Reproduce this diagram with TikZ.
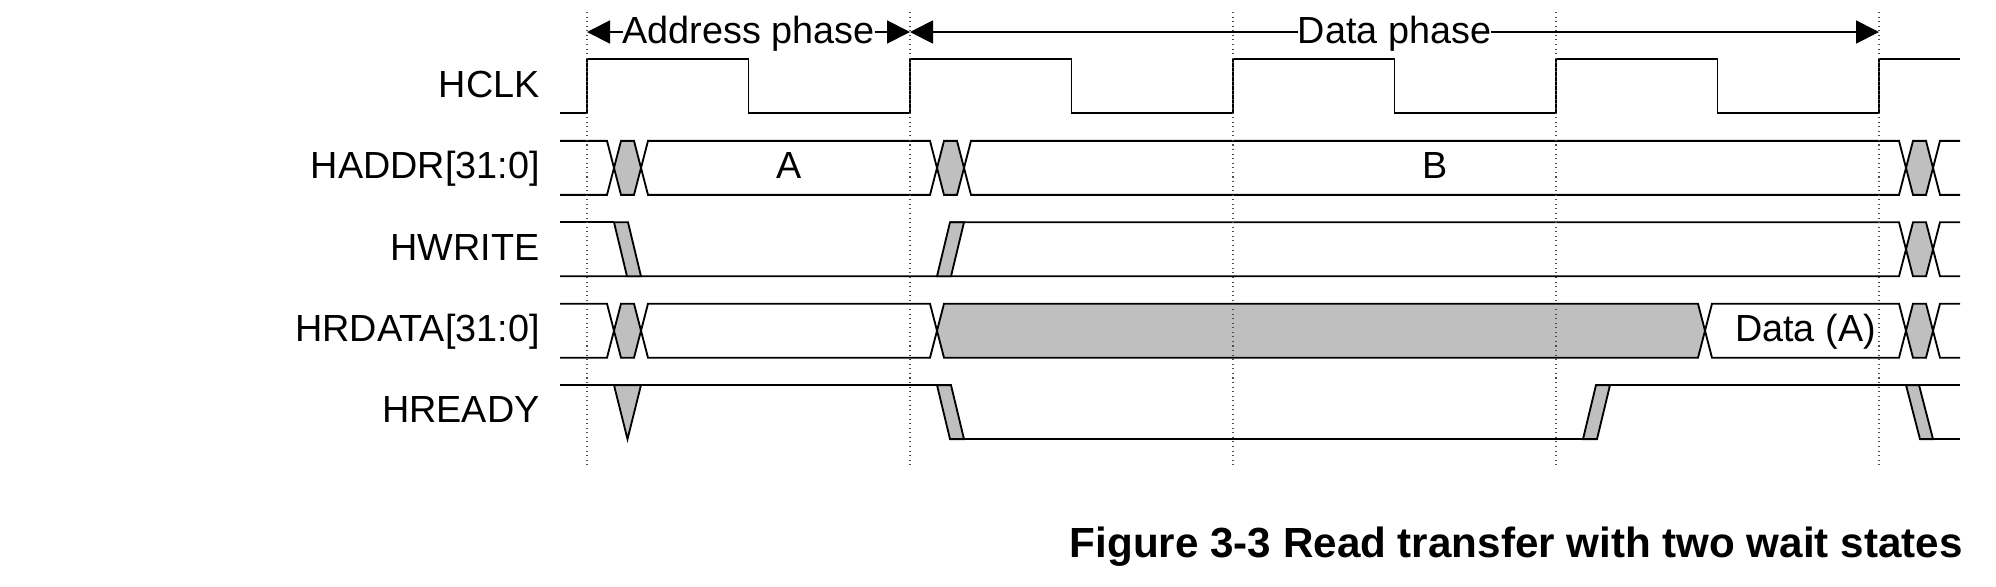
\documentclass[tikz,border=0pt]{standalone}
\usepackage{fontspec}
\setmainfont{Liberation Sans}
\usetikzlibrary{arrows.meta}

\definecolor{unk}{gray}{0.75}
\newcommand{\busseg}[4][white]{%
  \draw[sig,fill=#1] (#2,#4+27) -- (#2+7,#4) -- (#3-7,#4) -- (#3,#4+27)
    -- (#3-7,#4+54) -- (#2+7,#4+54) -- cycle;}

\begin{document}
\begin{tikzpicture}[x=0.02cm,y=-0.02cm,
      sig/.style={line width=1.05pt},
      grid line/.style={dotted,line width=0.6pt,black!70},
      sig name/.style={anchor=base east,inner sep=0pt,font=\fontsize{21.5}{26}\selectfont},
      sig val/.style={anchor=base,font=\fontsize{21.5}{26}\selectfont},
      phase/.style={fill=white,inner sep=0pt,anchor=base,font=\fontsize{21.5}{26}\selectfont},
      phase arrow/.style={sig,{Triangle[length=0.46cm,width=0.46cm]}-{Triangle[length=0.46cm,width=0.46cm]}}]

\useasboundingbox (0,0) rectangle (1996,586);

\node[sig name] (nclk)   at (540,97.5)  {HCLK};
\node[sig name] (naddr)  at (540,178.6) {HADDR[31:0]};
\node[sig name] (nwrite) at (540,260)   {HWRITE};
\node[sig name] (nrdata) at (540,341.4) {HRDATA[31:0]};
\node[sig name] (nready) at (540,422.8) {HREADY};

\draw[sig] (560,113.2) \foreach \e in {587,910,1233,1556} {
  -- (\e,113.2) -- (\e,59.2) -- (\e+161.5,59.2) -- (\e+161.5,113.2) }
  -- (1879,113.2) -- (1879,59.2) -- (1960,59.2);

\begin{scope}
\clip (560,0) rectangle (1960,470);
\foreach \a/\b/\c in {540/614/white,614/641/unk,641/937/white,937/964/unk,
    964/1906/white,1906/1933/unk,1933/1980/white}
  \busseg[\c]{\a}{\b}{140.9};
\foreach \a/\b/\c in {540/614/white,614/641/unk,641/937/white,937/1705/unk,
    1705/1906/white,1906/1933/unk,1933/1980/white}
  \busseg[\c]{\a}{\b}{303.7};

\draw[sig] (560,222.3) -- (614,222.3);
\draw[sig] (560,276.3) -- (1899,276.3) -- (1906,249.3);
\draw[sig,fill=unk] (614,222.3) -- (628,222.3) -- (641,276.3) -- (627,276.3) -- cycle;
\draw[sig,fill=unk] (937,276.3) -- (951,276.3) -- (964,222.3) -- (950,222.3) -- cycle;
\draw[sig] (950,222.3) -- (1899,222.3) -- (1906,249.3);
\busseg[unk]{1906}{1933}{222.3}
\busseg{1933}{1980}{222.3}

\draw[sig] (560,385.1) -- (937,385.1);
\draw[sig,fill=unk] (614,385.1) -- (627.5,439.1) -- (641,385.1) -- cycle;
\draw[sig,fill=unk] (937,385.1) -- (951,385.1) -- (964,439.1) -- (950,439.1) -- cycle;
\draw[sig] (950,439.1) -- (1583,439.1);
\draw[sig,fill=unk] (1583,439.1) -- (1597,439.1) -- (1610,385.1) -- (1596,385.1) -- cycle;
\draw[sig] (1596,385.1) -- (1960,385.1);
\draw[sig,fill=unk] (1906,385.1) -- (1919,385.1) -- (1933,439.1) -- (1920,439.1) -- cycle;
\draw[sig] (1920,439.1) -- (1960,439.1);
\end{scope}

\node[sig val] (va)  at (789,178.6)    {A};
\node[sig val] (vb)  at (1435,178.6)   {B};
\node[sig val] (vda) at (1805.5,341.4) {Data (A)};

\foreach \e [count=\i from 0] in {587,910,1233,1556,1879} {
  \coordinate (p\i) at (\e,32);
  \draw[grid line] (\e,12) -- (\e,467);
}

\draw[phase arrow] (p0) -- (p1);
\draw[phase arrow] (p1) -- (p4);
\node[phase] (naph) at (748.5,43)  {Address phase};
\node[phase] (ndph) at (1394.5,43) {Data phase};

\node[anchor=base east,inner sep=0pt,font=\bfseries\fontsize{24}{28}\selectfont] (cap) at (1963,557)
  {Figure 3-3 Read transfer with two wait states};
\end{tikzpicture}
\end{document}
